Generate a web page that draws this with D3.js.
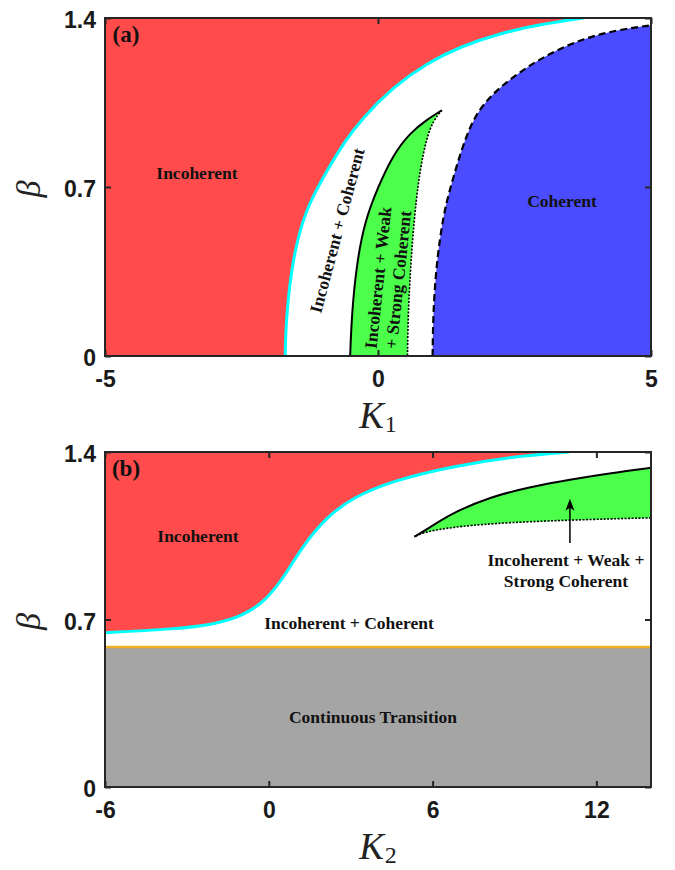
<!DOCTYPE html>
<html><head><meta charset="utf-8">
<script src="https://cdn.jsdelivr.net/npm/d3@7"></script>
<style>body{margin:0;background:#fff}svg{display:block}</style>
</head><body>
<svg id="c" width="675" height="870"></svg>
<script>
// ---------- Panel (a) data: [K1, beta] ----------
const aXTicks = [-5, 0, 5];
const aYTicks = [0, 0.7, 1.4];
const aCyan = [[-1.70,0],[-1.69,0.10],[-1.66,0.20],[-1.59,0.35],[-1.46,0.50],[-1.27,0.63],[-0.93,0.77],[-0.63,0.881],[-0.32,0.977],[0.28,1.115],[0.89,1.212],[1.50,1.281],[2.23,1.337],[3.0,1.375],[3.76,1.40]];
const aGreenLeft = [[-0.51,0],[-0.48,0.177],[-0.39,0.384],[-0.24,0.56],[0.0,0.70],[0.28,0.835],[0.59,0.925],[0.9,0.98],[1.17,1.018]];
const aGreenRight = [[1.17,1.018],[1.02,0.978],[0.89,0.905],[0.77,0.77],[0.70,0.646],[0.63,0.48],[0.58,0.30],[0.55,0.15],[0.54,0]];
const aBlue = [[1.0,0],[1.01,0.177],[1.07,0.384],[1.20,0.59],[1.34,0.71],[1.62,0.925],[1.93,1.055],[2.54,1.17],[3.15,1.255],[3.76,1.315],[4.37,1.35],[5.0,1.37]];

// ---------- Panel (b) data: [K2, beta] ----------
const bXTicks = [-6, 0, 6, 12];
const bYTicks = [0, 0.7, 1.4];
const bCyan = [[-6,0.645],[-3.4,0.66],[-1.97,0.68],[-0.95,0.715],[-0.09,0.78],[0.63,0.89],[1.2,1.0],[2.08,1.125],[3.08,1.21],[4.53,1.28],[6.7,1.34],[8.9,1.38],[11.0,1.40]];
const bGreenUpper = [[5.33,1.046],[5.77,1.075],[6.70,1.145],[8.14,1.213],[9.59,1.255],[11.03,1.285],[12.46,1.311],[14,1.334]];
const bGreenLower = [[14,1.125],[11.03,1.116],[8.14,1.102],[6.70,1.085],[5.77,1.068],[5.33,1.046]];
const bOrange = 0.585;
const bArrow = [[11.03,1.02],[11.03,1.205]];

const C = {red:"#FF4B4B", blue:"#4B4BFF", green:"#4BFF4B", gray:"#A5A5A5", cyan:"#00FFFF", orange:"#EDB120", frame:"#262626"};

const svg = d3.select("#c");
svg.append("rect").attr("width",675).attr("height",870).attr("fill","#fff");

function frame(g, x, y, xt, yt, xTitleSub, yTop, yBot) {
  const [x0,x1] = x.range();
  const xa = g.append("g").attr("transform",`translate(0,${yBot})`)
    .call(d3.axisBottom(x).tickValues(xt).tickSize(-6).tickPadding(15).tickFormat(d=>String(d)));
  const xt2 = g.append("g").attr("transform",`translate(0,${yTop})`)
    .call(d3.axisTop(x).tickValues(xt).tickSize(-6).tickFormat(""));
  const ya = g.append("g").attr("transform",`translate(${x0},0)`)
    .call(d3.axisLeft(y).tickValues(yt).tickSize(-6).tickPadding(9).tickFormat(d=>d===0?"0":d3.format(".1f")(d)));
  const yr = g.append("g").attr("transform",`translate(${x1},0)`)
    .call(d3.axisRight(y).tickValues(yt).tickSize(-6).tickFormat(""));
  [xa,xt2,ya,yr].forEach(a=>{
    a.select(".domain").remove();
    a.selectAll(".tick line").attr("stroke",C.frame).attr("stroke-width",2);
    a.selectAll(".tick text").attr("fill","#1a1a1a").attr("font-family","Liberation Sans, Arial, sans-serif")
      .attr("font-weight","bold").attr("font-size",23);
  });
  ya.selectAll(".tick text").attr("dy","0.42em");
  g.append("rect").attr("x",x0).attr("y",yTop).attr("width",x1-x0).attr("height",yBot-yTop)
    .attr("fill","none").attr("stroke",C.frame).attr("stroke-width",2);
  g.append("text").attr("transform",`translate(40,${(yTop+yBot)/2+2}) rotate(-90)`).attr("text-anchor","middle")
    .attr("font-family","Liberation Serif, serif").attr("font-style","italic").attr("font-size",34).attr("fill","#222").text("β");
  const t = g.append("text").attr("x",(x0+x1)/2).attr("y",yBot+72).attr("text-anchor","middle")
    .attr("font-family","Liberation Serif, serif").attr("fill","#222");
  t.append("tspan").attr("font-style","italic").attr("font-size",37).text("K");
  t.append("tspan").attr("font-size",24).attr("dy",4).attr("dx",1).text(xTitleSub);
}

function label(g, txt, x, y, rot, size) {
  g.append("text").attr("transform",`translate(${x},${y}) rotate(${rot||0})`)
    .attr("text-anchor","middle").attr("dominant-baseline","middle")
    .attr("font-family","Liberation Serif, Times New Roman, serif").attr("font-weight","bold")
    .attr("font-size",size||17.5).attr("fill","#111").text(txt);
}

// ================= Panel (a) =================
{
  const L=105, R=651, T=18, B=356;
  const x = d3.scaleLinear().domain([-5,5]).range([L,R]);
  const y = d3.scaleLinear().domain([0,1.4]).range([B,T]);
  const g = svg.append("g");
  g.append("clipPath").attr("id","clipA").append("rect").attr("x",L).attr("y",T).attr("width",R-L).attr("height",B-T);
  const p = g.append("g").attr("clip-path","url(#clipA)");
  const line = d3.line().x(d=>x(d[0])).y(d=>y(d[1])).curve(d3.curveBasis);
  const cont = s => s.replace(/^M/,"L");

  p.append("path").attr("fill",C.red)
    .attr("d",`M${x(-5)},${y(0)}` + cont(line(aCyan)) + `L${x(-5)},${y(1.4)}Z`);
  p.append("path").attr("fill",C.blue)
    .attr("d", line(aBlue) + `L${x(5)},${y(0)}Z`);
  p.append("path").attr("fill",C.green)
    .attr("d", line(aGreenLeft) + cont(line(aGreenRight)) + "Z");
  p.append("path").attr("fill","none").attr("stroke",C.cyan).attr("stroke-width",3).attr("d",line(aCyan));
  p.append("path").attr("fill","none").attr("stroke","#000").attr("stroke-width",2).attr("d",line(aGreenLeft));
  p.append("path").attr("fill","none").attr("stroke","#000").attr("stroke-width",1.6).attr("stroke-dasharray","2,1.5").attr("d",line(aGreenRight));
  p.append("path").attr("fill","none").attr("stroke","#000").attr("stroke-width",2.2).attr("stroke-dasharray","7,4").attr("d",line(aBlue));

  frame(g, x, y, aXTicks, aYTicks, "1", T, B);

  label(g,"(a)",L+21,T+19,0,23);
  label(g,"Incoherent",197,175);
  label(g,"Incoherent + Coherent",339,231,-75);
  label(g,"Incoherent + Weak",380,278,-84);
  label(g,"+ Strong Coherent",400,280,-84);
  label(g,"Coherent",562,203);
}

// ================= Panel (b) =================
{
  const L=105, R=651, T=452, B=787;
  const x = d3.scaleLinear().domain([-6,14]).range([L,R]);
  const y = d3.scaleLinear().domain([0,1.4]).range([B,T]);
  const g = svg.append("g");
  g.append("clipPath").attr("id","clipB").append("rect").attr("x",L).attr("y",T).attr("width",R-L).attr("height",B-T);
  const p = g.append("g").attr("clip-path","url(#clipB)");
  const line = d3.line().x(d=>x(d[0])).y(d=>y(d[1])).curve(d3.curveBasis);
  const cont = s => s.replace(/^M/,"L");

  p.append("rect").attr("x",L).attr("y",y(bOrange)).attr("width",R-L).attr("height",B-y(bOrange)).attr("fill",C.gray);
  p.append("line").attr("x1",L).attr("x2",R).attr("y1",y(bOrange)).attr("y2",y(bOrange)).attr("stroke",C.orange).attr("stroke-width",2.5);
  p.append("path").attr("fill",C.red)
    .attr("d",`M${x(-6)},${y(1.4)}` + cont(line(bCyan)) + "Z");
  p.append("path").attr("fill","none").attr("stroke",C.cyan).attr("stroke-width",3).attr("d",line(bCyan));
  p.append("path").attr("fill",C.green)
    .attr("d", line(bGreenUpper) + cont(line(bGreenLower)) + "Z");
  p.append("path").attr("fill","none").attr("stroke","#000").attr("stroke-width",2).attr("d",line(bGreenUpper));
  p.append("path").attr("fill","none").attr("stroke","#000").attr("stroke-width",1.6).attr("stroke-dasharray","2,1.5").attr("d",line(bGreenLower));

  const ax = x(bArrow[0][0]), ay0 = y(bArrow[0][1]), ay1 = y(bArrow[1][1]);
  g.append("line").attr("x1",ax).attr("x2",ax).attr("y1",ay0).attr("y2",ay1+6).attr("stroke","#000").attr("stroke-width",1.5);
  g.append("path").attr("d",`M${ax},${ay1}L${ax-4.5},${ay1+12}L${ax},${ay1+9}L${ax+4.5},${ay1+12}Z`).attr("fill","#000");

  frame(g, x, y, bXTicks, bYTicks, "2", T, B);

  label(g,"(b)",L+21,T+19,0,23);
  label(g,"Incoherent",198,538);
  label(g,"Incoherent + Coherent",349,625);
  label(g,"Incoherent + Weak +",566,562);
  label(g,"Strong Coherent",566,583);
  label(g,"Continuous Transition",373,719);
}
</script>
</body></html>
